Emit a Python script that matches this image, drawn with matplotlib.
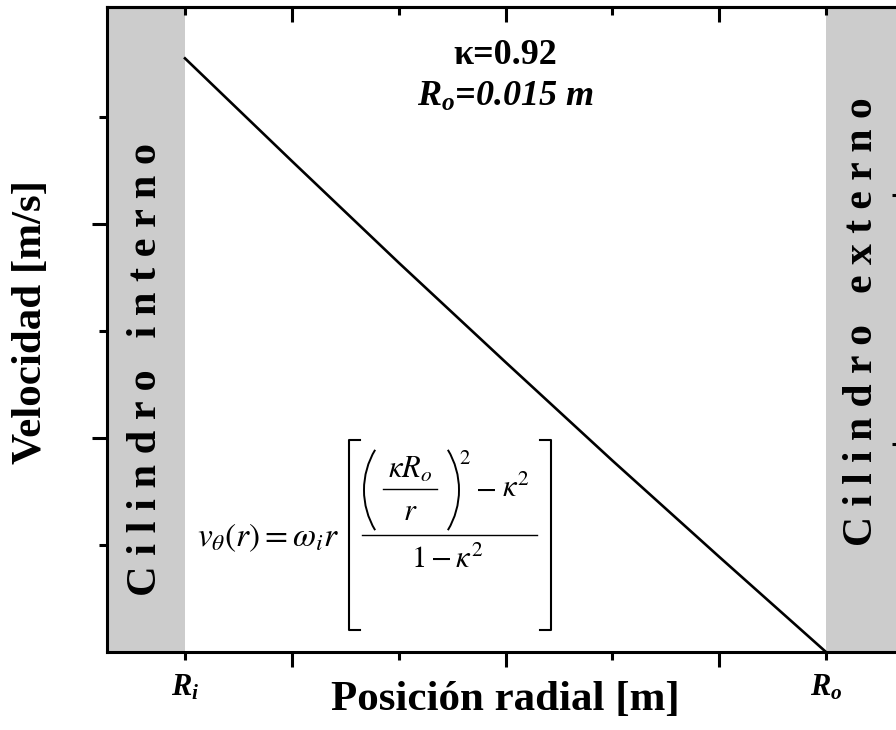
import numpy as np
import matplotlib
matplotlib.use("Agg")
import matplotlib.pyplot as plt
from matplotlib.lines import Line2D
from matplotlib.patches import Arc
from matplotlib.transforms import IdentityTransform

# radial position [m] and tangential velocity [m/s]
r_pos = [0.0138, 0.0140, 0.0142, 0.0144, 0.0146, 0.0148, 0.0150]
v_theta = [0.0555, 0.0459, 0.0364, 0.0271, 0.0179, 0.0089, 0.0]
R_i = 0.0138
R_o = 0.015
x_major = [0.0140, 0.0144, 0.0148]
x_minor = [0.0138, 0.0142, 0.0146, 0.0150]
x_minor_labels = [r'$R_i$', '', '', r'$R_o$']
y_major = [0.02, 0.04]
y_minor = [0.01, 0.03, 0.05]
y_right = [0.0194, 0.0427]

plt.rcParams['font.family'] = ['Liberation Serif', 'DejaVu Serif']
plt.rcParams['mathtext.fontset'] = 'custom'
plt.rcParams['mathtext.rm'] = 'Liberation Serif:bold'
plt.rcParams['mathtext.it'] = 'Liberation Serif:bold:italic'
plt.rcParams['mathtext.bf'] = 'Liberation Serif:bold'

W, H = 896, 730
fx = lambda x: x / W
fy = lambda y: 1 - y / H

fig = plt.figure(figsize=(W / 100, H / 100), dpi=100)
# axes run past the right edge of the picture, like the reference crop
ax = fig.add_axes([fx(107), fy(652), 797 / W, 645 / H])

xmin, xmax = 0.013654, 0.015146
ax.set_xlim(xmin, xmax)
ax.set_ylim(0, 0.0603)

ax.axvspan(xmin, R_i, color='#cccccc', lw=0, zorder=0)
ax.axvspan(R_o, xmax, color='#cccccc', lw=0, zorder=0)
ax.plot(r_pos, v_theta, color='black', lw=1.9, zorder=3)

for s in ax.spines.values():
    s.set_linewidth(2.2)

ax.set_xticks(x_major, ['', '', ''])
ax.set_xticks(x_minor, x_minor_labels, minor=True)
ax.set_yticks(y_major, ['', ''])
ax.set_yticks(y_minor, [], minor=True)
ax.tick_params(which='major', direction='out', length=11, width=2.2)
ax.tick_params(which='minor', direction='out', length=6, width=2.2)
ax.tick_params(axis='x', which='minor', labelsize=22, pad=9)

# top ticks point inwards
top = ax.secondary_xaxis('top')
top.set_xticks(x_major, ['', '', ''])
top.set_xticks(x_minor, [], minor=True)
top.tick_params(which='major', direction='in', length=11, width=2.2)
top.tick_params(which='minor', direction='in', length=6, width=2.2)
top.spines['top'].set_linewidth(2.2)

right = ax.secondary_yaxis('right')
right.set_yticks(y_right, ['', ''])
right.tick_params(direction='in', length=9, width=2.2)

fig.text(fx(31), fy(322), 'Velocidad [m/s]', rotation=90, ha='center',
         va='center', fontsize=31, fontweight='bold')
fig.text(fx(505), fy(700), 'Posición radial [m]', ha='center',
         va='center', fontsize=31, fontweight='bold')

fig.text(fx(505), fy(56), 'κ=0.92', ha='center', va='center',
         fontsize=26, fontweight='bold')
fig.text(fx(505), fy(97), r'$R_o$=0.015 m', ha='center', va='center',
         fontsize=26, fontweight='bold', fontstyle='italic')

fig.text(fx(146), fy(370), 'C i l i n d r o   i n t e r n o', rotation=90,
         ha='center', va='center', fontsize=30.5, fontweight='bold')
fig.text(fx(862), fy(322), 'C i l i n d r o   e x t e r n o', rotation=90,
         ha='center', va='center', fontsize=30, fontweight='bold')

# velocity profile formula, built from pieces
fs = 22
def mt(x, y, s, size=fs, ha='center'):
    fig.text(fx(x), fy(y), s, ha=ha, va='baseline', fontsize=size,
             math_fontfamily='stix')

def hline(x0, x1, y, lw=1.0):
    fig.add_artist(Line2D([fx(x0), fx(x1)], [fy(y), fy(y)], color='black', lw=lw))

mt(197, 546, r'$v_\theta(r) = \omega_i r$', size=24, ha='left')
mt(410, 478, r'$\kappa R_o$')
hline(383, 437, 489)
mt(410, 520, r'$r$')
mt(465, 464, r'$2$', size=15)
mt(485, 497, r'$-$')
mt(516, 497, r'$\kappa^2$')
hline(362, 537, 535)
mt(447, 568, r'$1-\kappa^2$')

# round brackets around the inner fraction (pixel coordinates)
rad, half = 78, 31
for cx, ang in [(364 + rad, 180), (459 - rad, 0)]:
    fig.add_artist(Arc((cx, H - 490), 2 * rad, 2 * rad, theta1=ang - half,
                       theta2=ang + half, lw=1.4, color='black',
                       transform=IdentityTransform()))
# square brackets
for xb, d in [(349, 11), (551, -11)]:
    fig.add_artist(Line2D([fx(xb + d), fx(xb), fx(xb), fx(xb + d)],
                          [fy(440), fy(440), fy(630), fy(630)],
                          color='black', lw=1.5))

fig.savefig('out.png', dpi=100)
